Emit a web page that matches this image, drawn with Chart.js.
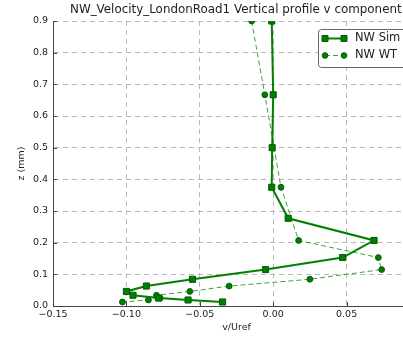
<!DOCTYPE html>
<html>
<head>
<meta charset="utf-8">
<script src="https://cdn.jsdelivr.net/npm/chart.js@4"></script>
<style>
  html, body { margin: 0; padding: 0; overflow: hidden; background: #fff; }
  #wrap { width: 403px; height: 340px; overflow: hidden; }
</style>
</head>
<body>
<div id="wrap"><canvas id="c" width="480" height="340"></canvas></div>
<script>
// heights (z) and velocities
const simZ = [0.9, 0.667, 0.5, 0.375, 0.277, 0.207, 0.153, 0.115, 0.0845, 0.063, 0.046, 0.034, 0.025, 0.019, 0.0127];
const simV = [-0.001, 0.0, -0.0007, -0.001, 0.0102, 0.0687, 0.0473, -0.0052, -0.055, -0.0864, -0.100, -0.0955, -0.078, -0.058, -0.0345];
const wtZ = [0.9, 0.667, 0.375, 0.207, 0.153, 0.115, 0.0845, 0.063, 0.046, 0.034, 0.025, 0.019, 0.0127];
const wtV = [-0.0147, -0.0057, 0.0053, 0.0173, 0.0716, 0.0739, 0.025, -0.030, -0.0568, -0.0795, -0.077, -0.085, -0.1027];
const seriesNames = ['NW Sim', 'NW WT'];
const titleText = 'NW_Velocity_LondonRoad1 Vertical profile v component';

const green = '#008000';
const edge = '#005a00';
const font = 'DejaVu Sans';

function toPoints(xs, ys){
    let pts = []
    for (let i = 0; i < xs.length; i++)
        pts.push({x: xs[i], y: ys[i]})
    return pts
}

function fmt(v, d){
    let s = Math.abs(v).toFixed(d)
    return (v < -1e-9 ? '\u2212' : '') + s
}

// title drawn left-anchored like the cropped original
const titlePlugin = {
    id: 'titleLeft',
    afterDraw(chart){
        const ctx = chart.ctx
        ctx.save()
        ctx.font = '11.9px ' + font
        ctx.fillStyle = '#222'
        ctx.textAlign = 'left'
        ctx.textBaseline = 'middle'
        ctx.fillText(titleText, 70, 10)
        ctx.restore()
    }
}

// matplotlib style legend: line with a marker at both ends
const legendPlugin = {
    id: 'mplLegend',
    afterDraw(chart){
        const ctx = chart.ctx
        const x0 = 318, y0 = 29, w = 100, h = 38
        ctx.save()
        ctx.fillStyle = '#fff'
        ctx.strokeStyle = '#666'
        ctx.lineWidth = 1
        ctx.beginPath()
        ctx.roundRect(x0 + 0.5, y0 + 0.5, w, h, 3)
        ctx.fill()
        ctx.stroke()
        chart.data.datasets.forEach((ds, i) => {
            const y = y0 + 9.5 + i * 17
            ctx.strokeStyle = ds.borderColor
            ctx.lineWidth = ds.borderWidth
            ctx.setLineDash(ds.borderDash || [])
            ctx.beginPath()
            ctx.moveTo(325, y)
            ctx.lineTo(344, y)
            ctx.stroke()
            ctx.setLineDash([])
            ctx.fillStyle = green
            ctx.strokeStyle = edge
            ctx.lineWidth = 1
            ;[325, 344].forEach(px => {
                ctx.beginPath()
                if (ds.pointStyle === 'rect')
                    ctx.rect(px - 3, y - 3, 6, 6)
                else
                    ctx.arc(px, y, 2.8, 0, Math.PI * 2)
                ctx.fill()
                ctx.stroke()
            })
            ctx.fillStyle = '#222'
            ctx.font = '11.5px ' + font
            ctx.textBaseline = 'middle'
            ctx.fillText(ds.label, 355, y)
        })
        ctx.restore()
    }
}

// small inward tick marks on the left and bottom axes
const tickPlugin = {
    id: 'inTicks',
    afterDraw(chart){
        const ctx = chart.ctx
        const a = chart.chartArea
        ctx.save()
        ctx.strokeStyle = '#444'
        ctx.lineWidth = 1
        ctx.beginPath()
        chart.scales.y.ticks.forEach(t => {
            const py = Math.round(chart.scales.y.getPixelForValue(t.value)) + 0.5
            ctx.moveTo(a.left, py); ctx.lineTo(a.left + 4, py)
        })
        chart.scales.x.ticks.forEach(t => {
            const px = Math.round(chart.scales.x.getPixelForValue(t.value)) + 0.5
            ctx.moveTo(px, a.bottom); ctx.lineTo(px, a.bottom - 4)
        })
        ctx.stroke()
        ctx.restore()
    }
}

const data = {
    datasets: [{
        label: seriesNames[0],
        data: toPoints(simV, simZ),
        showLine: true,
        borderColor: green,
        borderWidth: 2,
        pointStyle: 'rect',
        pointRadius: 4.3,
        pointBackgroundColor: green,
        pointBorderColor: edge,
        pointBorderWidth: 1
    }, {
        label: seriesNames[1],
        data: toPoints(wtV, wtZ),
        showLine: true,
        borderColor: 'rgba(0,128,0,0.75)',
        borderWidth: 1,
        borderDash: [5, 3],
        pointStyle: 'circle',
        pointRadius: 2.9,
        pointBackgroundColor: green,
        pointBorderColor: edge,
        pointBorderWidth: 1
    }]
};

const config = {
    type: 'scatter',
    data: data,
    plugins: [titlePlugin, legendPlugin, tickPlugin],
    options: {
        responsive: false,
        animation: false,
        layout: { padding: { top: 21, right: 60, left: 0, bottom: 0 } },
        plugins: { legend: { display: false }, title: { display: false }, tooltip: { enabled: false } },
        scales: {
            x: {
                min: -0.15, max: 0.1,
                afterFit: s => { s.height = 34 },
                border: { display: true, color: '#444', width: 1, dash: [5, 4] },
                grid: { color: '#b8b8b8', drawTicks: false },
                ticks: { stepSize: 0.05, padding: 3, color: '#222', font: { family: font, size: 9.5 },
                         callback: v => fmt(v, 2), maxRotation: 0 },
                title: { display: true, text: 'v/Uref', color: '#222', font: { family: font, size: 9.5 }, padding: { top: 1, bottom: 7 } }
            },
            y: {
                min: 0, max: 0.9,
                afterFit: s => { s.width = 53 },
                border: { display: true, color: '#444', width: 1, dash: [5, 4] },
                grid: { color: '#b8b8b8', drawTicks: false },
                ticks: { stepSize: 0.1, padding: 5, color: '#222', font: { family: font, size: 9.5 },
                         callback: v => fmt(v, 1) },
                title: { display: true, text: 'z (mm)', color: '#222', font: { family: font, size: 9.5 }, padding: { top: 16, bottom: 0 } }
            }
        }
    }
};

const chart = new Chart(document.getElementById('c').getContext('2d'), config);
</script>
</body>
</html>
